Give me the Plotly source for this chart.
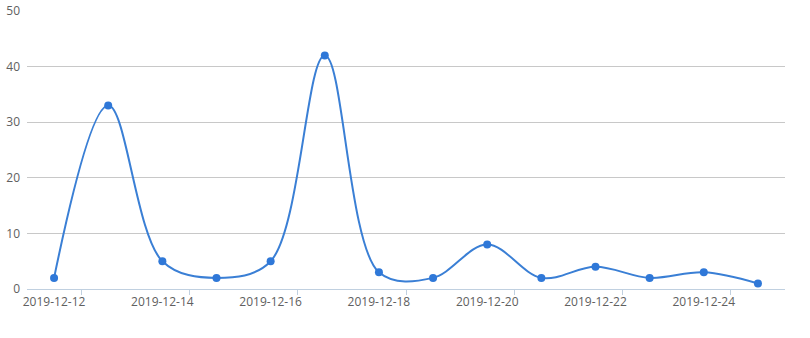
import plotly.graph_objects as go

dates = ["2019-12-12", "2019-12-13", "2019-12-14", "2019-12-15", "2019-12-16",
         "2019-12-17", "2019-12-18", "2019-12-19", "2019-12-20", "2019-12-21",
         "2019-12-22", "2019-12-23", "2019-12-24", "2019-12-25"]
values = [2, 33, 5, 2, 5, 42, 3, 2, 8, 2, 4, 2, 3, 1]

idx = list(range(len(dates)))
label_idx = idx[::2]
label_text = dates[::2]

fig = go.Figure()
fig.add_trace(go.Scatter(
    x=idx, y=values, mode="lines+markers",
    line=dict(color="#3a7fd5", width=2, shape="spline", smoothing=1.0),
    marker=dict(color="#2f78d8", size=8),
    hoverinfo="x+y",
    cliponaxis=False,
))

font = dict(family="Open Sans, Noto Sans, sans-serif", size=12, color="#606060")
fig.update_layout(
    width=810, height=338,
    margin=dict(l=27, r=25, t=11, b=49, autoexpand=False),
    paper_bgcolor="white", plot_bgcolor="white",
    showlegend=False,
    font=font,
    xaxis=dict(
        range=[-0.5, len(dates) - 0.5], automargin=False,
        tickmode="array", tickvals=label_idx, ticktext=label_text,
        ticks="", showgrid=False, zeroline=False,
        showline=True, linecolor="#c0d0e0", linewidth=1,
        tickfont=font, ticklabelstandoff=2,
        minor=dict(tickmode="array", tickvals=[i + 0.5 for i in label_idx],
                   ticks="outside", ticklen=5, tickcolor="#c0d0e0", showgrid=False),
    ),
    yaxis=dict(
        range=[0, 50], tickmode="linear", tick0=0, dtick=10, automargin=False,
        showgrid=True, gridcolor="#c8c8c8", gridwidth=1,
        zeroline=False, showline=False, ticks="",
        ticklabelstandoff=6, tickfont=font,
    ),
)
fig.write_html("out.html")
